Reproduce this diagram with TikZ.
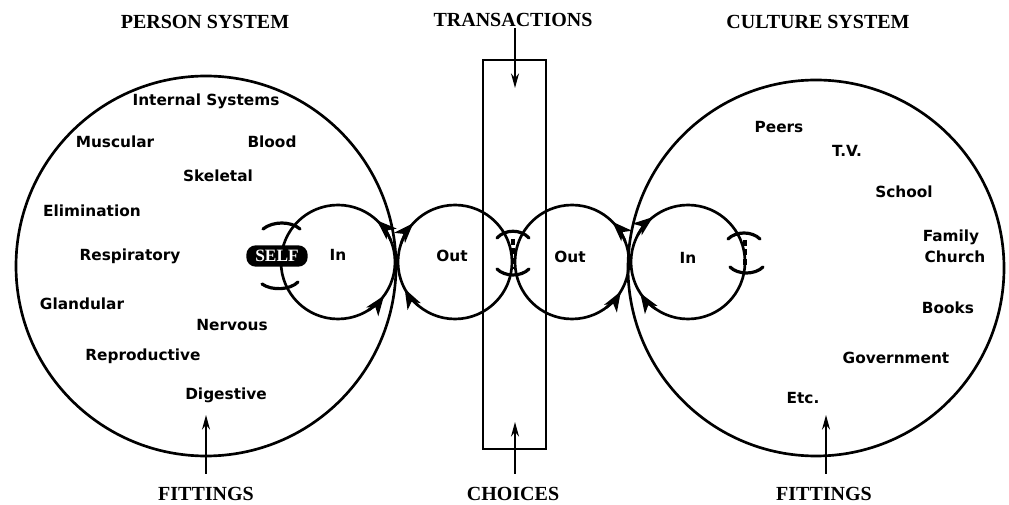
\documentclass[tikz,border=0pt]{standalone}
\usepackage{fontspec}
\setmainfont{Liberation Serif}
\setsansfont{DejaVu Sans}
\usetikzlibrary{arrows.meta,positioning}

\tikzset{
  lbl/.style={font=\sffamily\bfseries\fontsize{11.5}{13}\selectfont, inner sep=1pt},
  hdr/.style={font=\bfseries\fontsize{15}{17}\selectfont, inner sep=1pt},
  ring/.style={line width=2},
  capline/.style={line width=2.4, line cap=round},
  dotline/.style={line width=3.6, dash pattern=on 4.5pt off 2.6pt},
  flow/.style={line width=2, -{Stealth[length=15pt,width=11pt,inset=4pt]}},
  pointer/.style={line width=1.3, -{Stealth[length=11pt,width=6pt]}},
}

\begin{document}
\begin{tikzpicture}[x=0.75pt,y=0.75pt,yscale=-1,xscale=1]
\useasboundingbox (0,0) rectangle (1009,505);

%Centres of the circles
\coordinate (person) at (206,266);
\coordinate (culture) at (816,268);
\coordinate (inL) at (338,262);
\coordinate (outL) at (455,262);
\coordinate (outR) at (572,262);
\coordinate (inR) at (688,262);

%Shape: Circle (person system)
\draw [ring] (person) circle (190);
%Shape: Circle (culture system)
\draw [ring] (culture) circle (188);

%Shape: Rectangle (transactions)
\draw [line width=2.2] (483,60) rectangle (546,449);

%Shape: Circle (in / out loops)
\draw [ring] (inL) circle (57);
\draw [ring] (outL) circle (57);
\draw [ring] (outR) circle (57);
\draw [ring] (inR) circle (57);

%Arrows on the loops
\draw [flow] ([shift={(-22:57)}]inL) arc [start angle=-22, end angle=-47, radius=57];
\draw [flow] ([shift={(58:57)}]inL) arc [start angle=58, end angle=36, radius=57];
\draw [flow] ([shift={(130:57)}]outL) arc [start angle=130, end angle=152, radius=57];
\draw [flow] ([shift={(199:57)}]outL) arc [start angle=199, end angle=223, radius=57];
\draw [flow] ([shift={(-21:57)}]outR) arc [start angle=-21, end angle=-45, radius=57];
\draw [flow] ([shift={(53:57)}]outR) arc [start angle=53, end angle=31, radius=57];
\draw [flow] ([shift={(208:57)}]inR) arc [start angle=208, end angle=232, radius=57];
\draw [flow] ([shift={(125:57)}]inR) arc [start angle=125, end angle=147, radius=57];

%Caps round the self
\draw [capline] (263,229) .. controls (273,221) and (291,221) .. (300,229);
\draw [capline] (262,284) .. controls (272,291) and (290,290) .. (298,282);
%Caps between the two out loops
\draw [capline] (497,238) .. controls (505,229) and (521,229) .. (529,238);
\draw [capline] (497,269) .. controls (505,277) and (521,277) .. (529,269);
\draw [dotline] (513,239) -- (513,269);
%Caps at the culture side
\draw [capline] (728,239) .. controls (736,231) and (752,231) .. (760,239);
\draw [capline] (730,267) .. controls (738,275) and (755,275) .. (763,267);
\draw [dotline] (745,240) -- (745,267);

% Self
\node [fill=black, text=white, rounded corners=7pt, minimum width=46pt, minimum height=16pt,
  inner sep=1pt, font=\bfseries\fontsize{13}{15}\selectfont] (self) at (277,256) {SELF};

% Text Node
\node [lbl] (inLtxt) at (338,255) {In};
\node [lbl] (outLtxt) at (452,256) {Out};
\node [lbl] (outRtxt) at (570,257) {Out};
\node [lbl] (inRtxt) at (688,258) {In};

% Headings
\node [hdr] (hdrPerson) at (205,22) {PERSON SYSTEM};
\node [hdr] (hdrTrans) at (513,20) {TRANSACTIONS};
\node [hdr] (hdrCulture) at (818,22) {CULTURE SYSTEM};
\node [hdr] (fitLeft) at (206,494) {FITTINGS};
\node [hdr] (choices) at (513,494) {CHOICES};
\node [hdr] (fitRight) at (824,494) {FITTINGS};

%Pointers
\coordinate (transTip) at (515,88);
\coordinate (choiceTip) at (515,422);
\coordinate (fitLeftTip) at (206,415);
\coordinate (fitRightTip) at (826,415);
\draw [pointer] (hdrTrans.south -| transTip) -- (transTip);
\draw [pointer] (choices.north -| choiceTip) ++(0,-12) -- (choiceTip);
\draw [pointer] (fitLeft.north) ++(0,-12) -- (fitLeftTip);
\draw [pointer] (fitRight.north -| fitRightTip) ++(0,-12) -- (fitRightTip);

% Text Node (person system)
\node [lbl] (internal) at (206,101) {Internal Systems};
\node [lbl] (muscular) at (115,142) {Muscular};
\node [lbl] (blood) at (272,142) {Blood};
\node [lbl] (skeletal) at (218,176) {Skeletal};
\node [lbl] (elimination) at (92,211) {Elimination};
\node [lbl] (respiratory) at (130,256) {Respiratory};
\node [lbl] (glandular) at (82,304) {Glandular};
\node [lbl] (nervous) at (232,325) {Nervous};
\node [lbl] (reproductive) at (143,356) {Reproductive};
\node [lbl] (digestive) at (226,395) {Digestive};

% Text Node (culture system)
\node [lbl] (peers) at (779,127) {Peers};
\node [lbl] (tv) at (847,151) {T.V.};
\node [lbl] (school) at (904,192) {School};
\node [lbl] (family) at (951,237) {Family};
\node [lbl] (church) at (955,257) {Church};
\node [lbl] (books) at (948,308) {Books};
\node [lbl] (government) at (896,358) {Government};
\node [lbl] (etc) at (803,398) {Etc.};

\end{tikzpicture}
\end{document}
